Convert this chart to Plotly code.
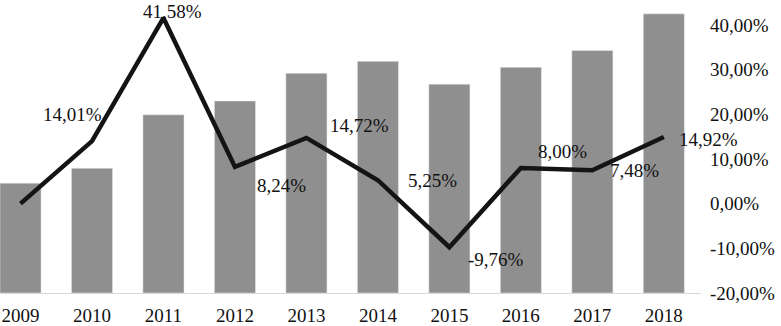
import plotly.graph_objects as go

years = ["2009", "2010", "2011", "2012", "2013", "2014", "2015", "2016", "2017", "2018"]
bar_values = [111, 126, 180, 194, 222, 234, 211, 228, 245, 282]
growth_pct = [0.0, 14.01, 41.58, 8.24, 14.72, 5.25, -9.76, 8.00, 7.48, 14.92]
show_label = [False, True, True, True, True, True, True, True, True, True]
y2_tickvals = [-20, -10, 0, 10, 20, 30, 40]
y2_ticktext = ["-20,00%", "-10,00%", "0,00%", "10,00%", "20,00%", "30,00%", "40,00%"]

# label pixel offsets (style)
label_dx = [0, -19, 9, 47, 53, 55, 47, 42, 42, 45]
label_dy = [0, 27, 6, -19, 12, 0, -12, 16, 0, -2]

FONT = "Liberation Serif"

fig = go.Figure()
fig.add_trace(go.Bar(
    x=years, y=bar_values, marker_color="#8f8f8f", width=0.575,
    yaxis="y", showlegend=False, hoverinfo="skip"))
fig.add_trace(go.Scatter(
    x=years, y=growth_pct, mode="lines", yaxis="y2",
    line=dict(color="#141414", width=4.5), showlegend=False, hoverinfo="skip"))

for i, v in enumerate(growth_pct):
    if not show_label[i]:
        continue
    txt = f"{v:.2f}".replace(".", ",") + "%"
    fig.add_annotation(x=i, y=v, xref="x", yref="y2", text=txt, showarrow=False,
                       xshift=label_dx[i], yshift=label_dy[i], borderpad=0,
                       font=dict(family=FONT, size=19, color="#111111"))

fig.update_layout(
    width=781, height=326,
    margin=dict(l=0, r=80, t=0, b=30),
    paper_bgcolor="white", plot_bgcolor="white",
    font=dict(family=FONT, size=19, color="#111111"),
    bargap=0.4,
    xaxis=dict(type="category", range=[-0.287, 9.52], showgrid=False,
               showline=True, linecolor="#d9d9d9", linewidth=1,
               ticks="", ticklabelstandoff=5,
               tickfont=dict(family=FONT, size=19, color="#111111"),
               zeroline=False),
    yaxis=dict(range=[0, 296], visible=False, showgrid=False),
    yaxis2=dict(overlaying="y", side="right", range=[-20, 45.59],
                tickvals=y2_tickvals, ticktext=y2_ticktext,
                showgrid=False, zeroline=False, showline=False, ticks="",
                ticklabelstandoff=8,
                tickfont=dict(family=FONT, size=19, color="#111111")),
)

fig.write_html("out.html", config={"displayModeBar": False},
               post_script="document.body.style.margin='0';")
